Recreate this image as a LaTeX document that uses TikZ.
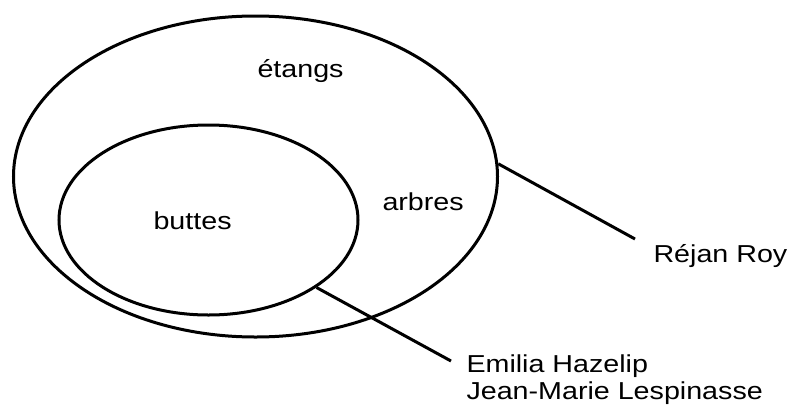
\documentclass[tikz,border=0pt]{standalone}
\usepackage{fontspec}
\setmainfont{Liberation Sans}[FakeStretch=1.17]
\usetikzlibrary{positioning,shapes.geometric}

\begin{document}
\begin{tikzpicture}[x=1pt, y=-1pt, line width=3pt,
    set/.style = {draw, ellipse, inner sep=0pt},
    lbl/.style = {inner sep=0pt, anchor=base west, font=\fontsize{24.5}{29}\selectfont}]
    \useasboundingbox (0,0) rectangle (789,407);
    \node[set, minimum width=484pt, minimum height=321pt] (outer) at (255.5,176.5) {};
    \node[set, minimum width=299pt, minimum height=190pt] (inner) at (208.5,220) {};
    \node[lbl] (etangs) at (256,77) {étangs};
    \node[lbl] (arbres) at (381,210) {arbres};
    \node[lbl] (buttes) at (152,229) {buttes};
    \node[lbl] (rejan) at (652,262) {Réjan Roy};
    \node[lbl] (emilia) at (465,372) {Emilia Hazelip};
    \node[lbl] (jeanmarie) at ([yshift=-27.7pt]emilia.base west) {Jean-Marie Lespinasse};
    \draw (outer.3) -- ([shift={(-17pt,23pt)}]rejan.base west);
    \draw (inner.-32) -- ([shift={(-14pt,11pt)}]emilia.base west);
\end{tikzpicture}
\end{document}
